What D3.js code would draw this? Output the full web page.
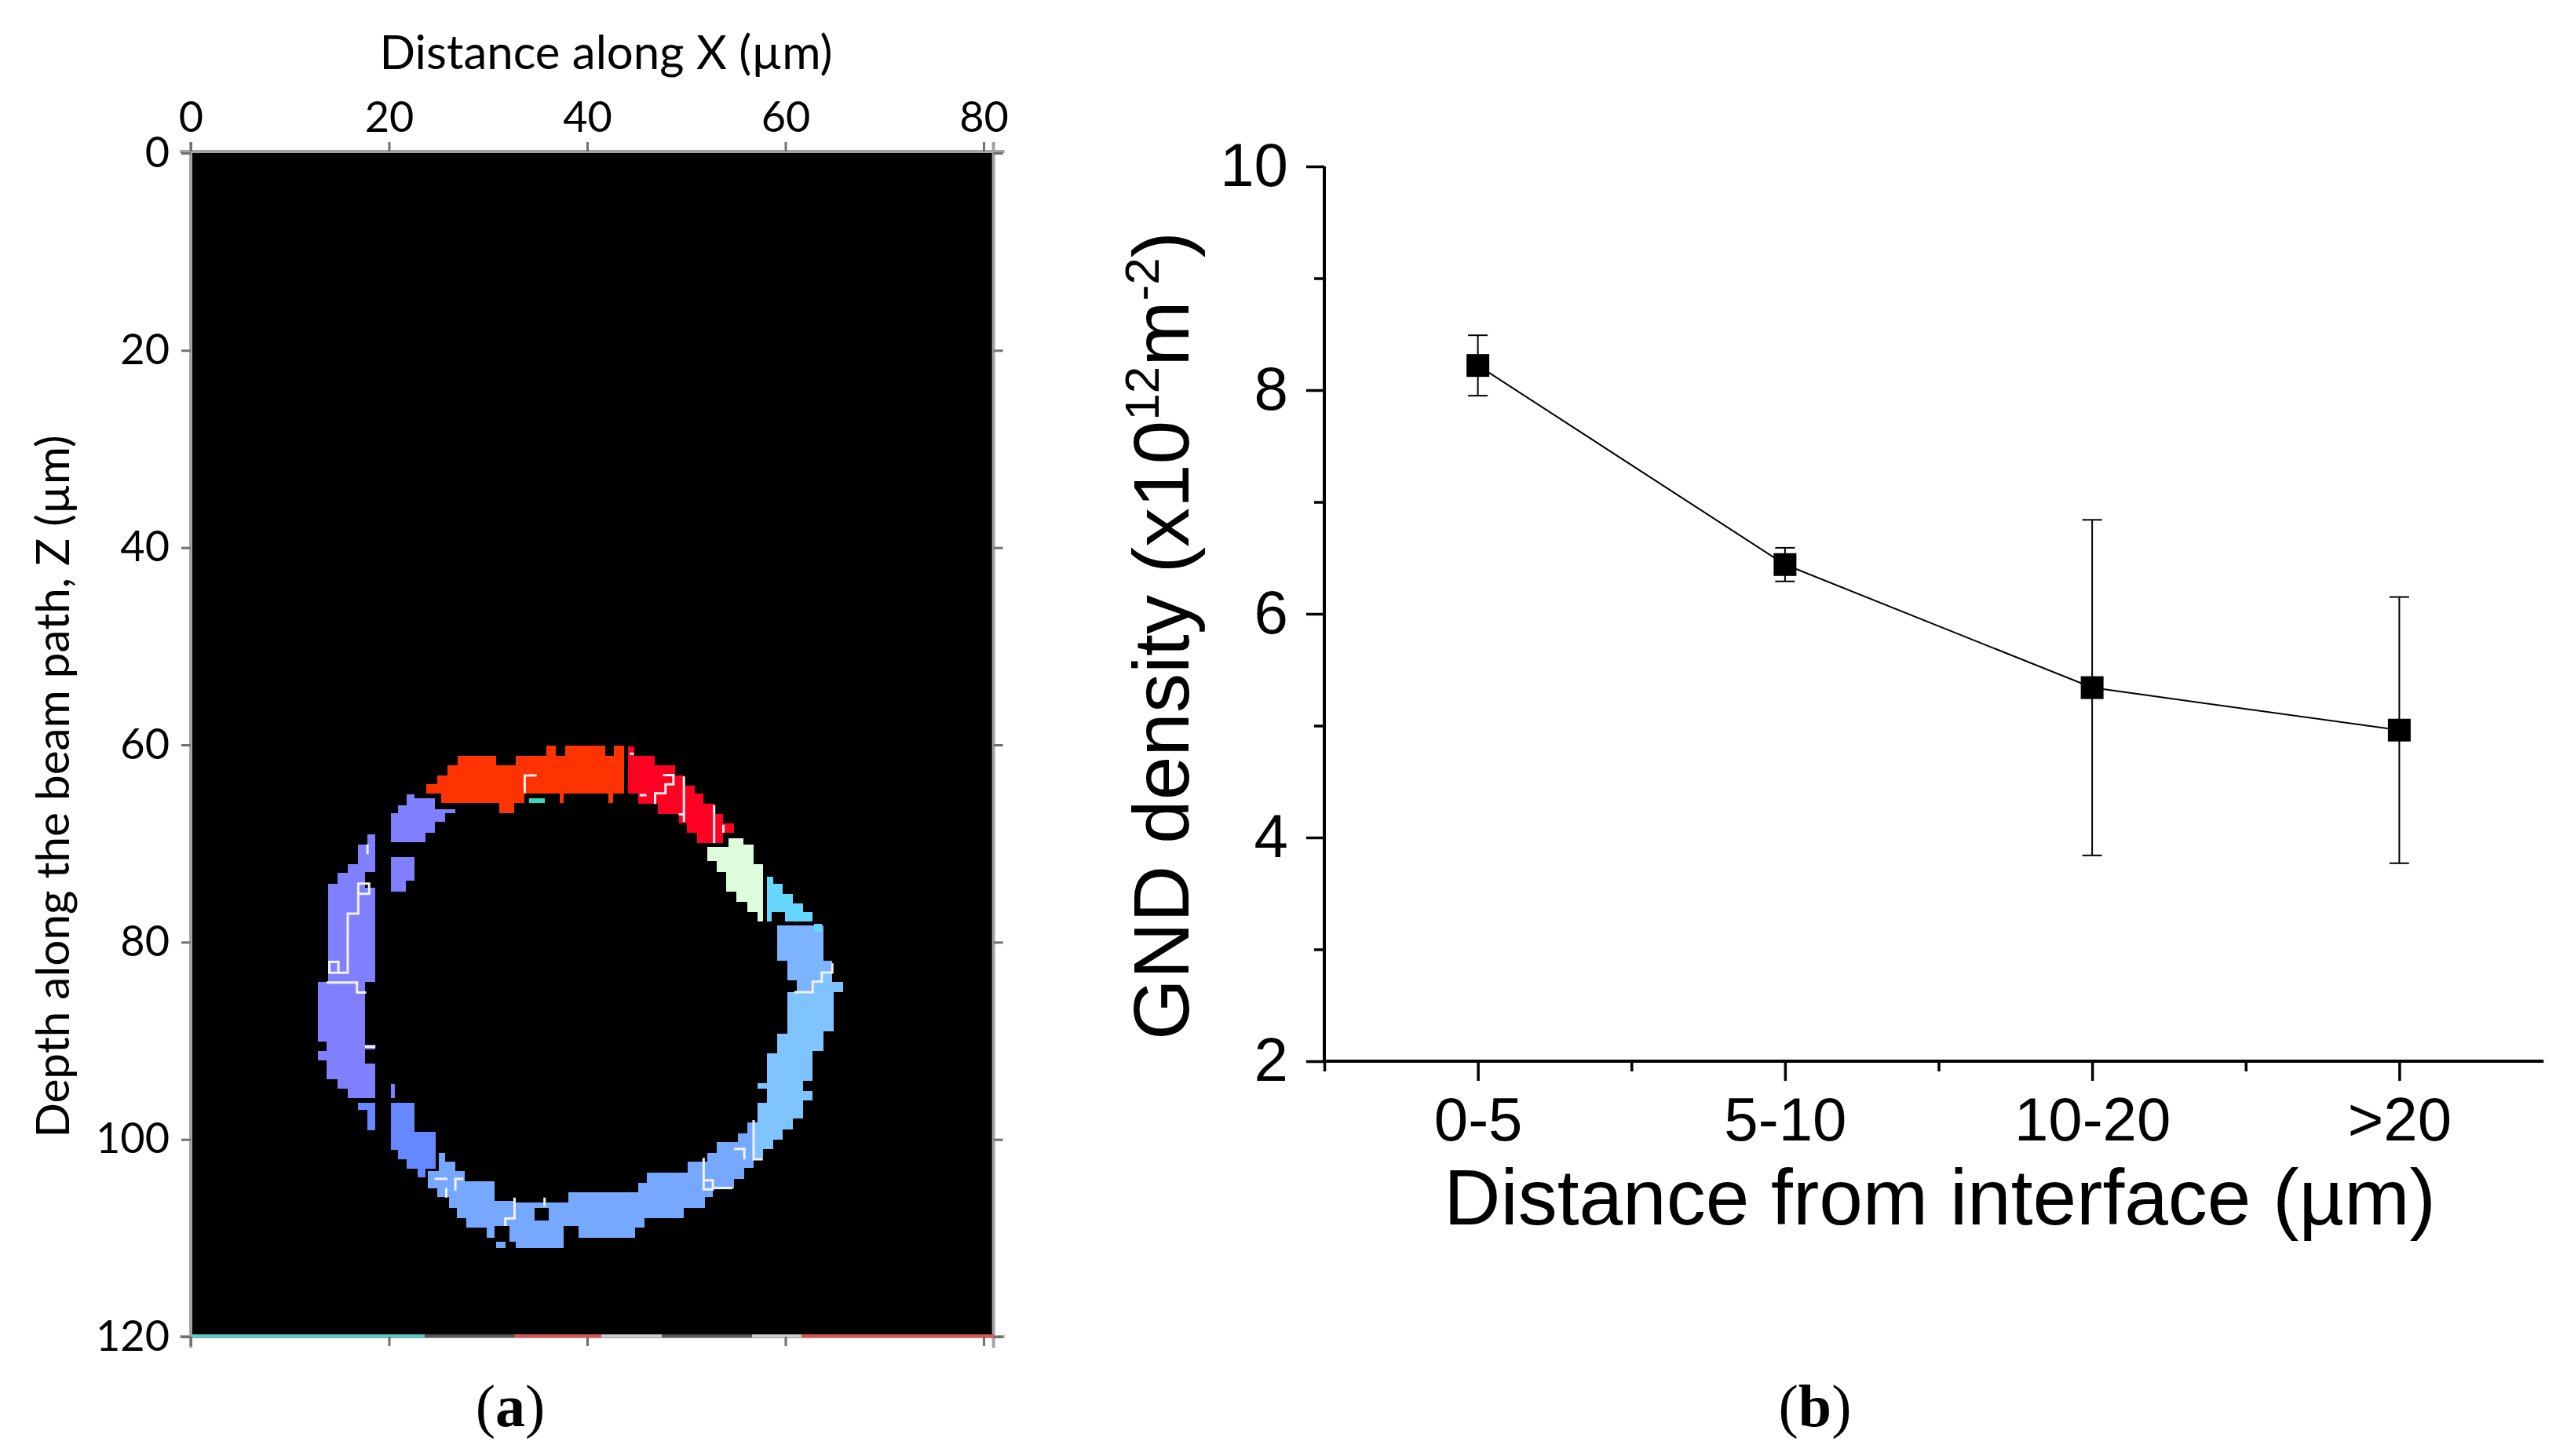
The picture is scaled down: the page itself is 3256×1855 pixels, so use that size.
<!DOCTYPE html>
<html>
<head>
<meta charset="utf-8">
<script src="https://cdn.jsdelivr.net/npm/d3@7"></script>
<style>
  body { margin: 0; background: #fff; }
</style>
</head>
<body>
<script>
// ---------- data : panel (a) map, cells as [z0, z1, x0, x1] in µm ----------
var orangeGrain = [
  [60.07,61.08,35.85,36.8],[60.07,61.08,37.8,41.8],[60.07,61.08,42.7,43.7],
  [61.08,62.1,26.9,30.8],[61.08,62.1,32.8,43.7],
  [62.1,63.1,25.9,43.7],
  [63.1,64.0,24.85,43.7],
  [64.0,64.9,23.8,43.7],
  [64.9,65.9,25.25,33.7],[64.9,65.9,37.2,37.6],[64.9,65.9,42.1,42.6],
  [65.9,66.9,31.1,32.6]
];
var tealGrain = [[65.4,65.9,34.1,35.7]];
var redGrain = [
  [60.15,61.08,44.15,44.73],
  [61.08,62.09,44.15,46.85],
  [62.09,63.07,44.15,48.84],
  [63.07,64.13,44.15,49.76],
  [64.13,64.92,44.15,50.82],
  [64.92,65.98,45.13,51.75],
  [65.98,67.04,47.11,52.81],
  [67.04,67.97,49.23,53.74],
  [67.97,68.9,50.03,54.8],
  [68.9,69.96,51.09,53.74]
];
var greenGrain = [
  [69.43,70.09,54.27,55.73],
  [70.09,70.35,54.27,56.79],
  [70.35,71.81,52.15,56.79],
  [71.81,72.08,53.08,56.79],
  [72.08,72.87,53.08,57.71],
  [72.87,74.86,54.0,57.71],
  [74.86,75.92,55.06,57.71],
  [75.92,76.98,56.12,57.71],
  [76.98,77.9,57.18,57.71]
];
var cyanGrain = [
  [73.4,74.06,58.11,58.77],
  [74.06,75.12,58.11,59.7],
  [75.12,76.05,58.11,60.76],
  [76.05,76.98,58.11,61.82],
  [76.98,77.9,58.11,58.64],[76.98,77.9,59.96,62.75],
  [78.17,78.97,62.88,63.67]
];
var skyGrain = [
  [78.3,81.88,59.17,63.81],
  [81.88,83.07,60.23,64.73],
  [83.07,83.87,60.23,63.67],
  [83.87,85.06,61.16,62.75]
];
var lightBlueGrain = [
  [83.07,84.0,63.67,64.73],
  [84.0,85.06,62.75,65.79],
  [85.06,89.03,60.23,64.87],
  [89.03,89.3,60.23,63.81],
  [89.3,91.02,59.17,63.81],
  [91.02,91.28,59.17,62.75],
  [91.28,94.07,58.11,62.75],
  [94.07,94.33,58.11,61.82],
  [94.33,94.86,57.18,61.82],
  [94.86,95.13,58.11,61.82],
  [95.13,96.05,58.11,62.75],
  [96.05,96.32,58.11,61.82],
  [96.32,97.91,57.18,61.82],
  [97.91,98.31,57.18,60.76],
  [98.31,98.97,56.8,60.76],
  [98.97,100.03,56.8,59.7],
  [100.03,100.96,56.8,58.77],
  [100.96,101.9,56.8,57.71]
];
var bottomGrain = [
  [98.31,99.36,56.12,56.8],
  [99.36,100.29,55.2,56.8],
  [100.29,101.35,53.08,56.8],
  [101.35,102.28,52.15,56.8],
  [102.28,102.9,50.16,56.79],
  [102.9,103.34,50.16,55.86],
  [103.34,104.0,46.05,55.86],
  [104.0,104.4,46.05,54.8],
  [104.4,104.93,45.13,54.8],
  [104.93,105.33,45.13,52.68],
  [105.33,105.86,38.1,52.68],
  [105.86,106.39,38.1,51.88],
  [106.39,106.92,32.8,51.88],
  [106.92,107.98,36.11,49.76],[106.92,108.24,32.8,34.66],
  [107.98,108.24,36.11,45.79],
  [108.24,108.8,32.8,45.79],
  [108.8,108.9,32.8,37.6],[108.8,108.9,39.16,45.79],
  [108.9,109.96,32.8,37.6],[108.9,109.96,39.16,44.86],
  [109.96,111.02,32.8,37.6],
  [101.35,102.28,25.0,25.65],
  [102.28,103.2,25.0,26.7],
  [103.2,104.27,23.93,27.63],
  [104.27,104.93,23.93,30.68],
  [104.93,105.86,24.85,30.68],
  [105.86,106.26,26.05,30.68],
  [106.26,106.92,26.05,32.8],
  [106.92,107.98,26.84,32.8],
  [107.98,108.77,27.77,32.8],
  [108.77,108.9,27.77,30.68],[108.77,110.36,32.14,32.8],
  [108.9,109.96,29.89,30.68],
  [110.36,111.02,30.8,31.74]
];
var blobGrain = [
  [96.32,99.23,20.22,22.6],
  [99.23,101.09,20.22,24.72],
  [101.09,102.02,20.88,24.72],
  [102.02,102.94,21.81,24.72],
  [102.94,103.87,22.87,23.66],
  [96.32,96.98,16.9,18.63],
  [96.98,99.1,17.83,18.63]
];
var violetGrain = [
  [65.05,65.45,21.8,22.6],
  [65.45,66.1,21.8,24.6],
  [66.1,66.5,20.9,24.6],
  [66.5,66.9,20.9,26.7],
  [66.9,67.8,20.2,25.65],
  [67.8,68.9,20.2,24.6],
  [68.9,69.9,20.2,23.7],
  [71.4,73.8,20.2,22.6],
  [73.8,74.9,20.2,21.7],
  [69.08,70.09,17.83,18.63],
  [70.09,72.08,16.9,18.63],
  [72.08,72.87,15.84,18.63],
  [72.87,73.0,15.84,17.57],
  [73.0,74.06,14.78,17.57],
  [74.06,74.46,13.86,17.57],
  [74.46,84.0,13.86,18.63],
  [84.0,90.09,12.8,17.57],
  [90.09,91.02,13.72,17.57],
  [90.36,90.89,17.57,18.63],
  [91.02,91.95,12.8,17.57],
  [91.95,92.34,13.72,17.57],
  [92.34,93.93,13.72,18.63],
  [93.93,94.86,14.78,18.63],
  [94.86,95.79,15.84,18.63],
  [94.4,95.79,20.22,20.6]
];
// grain boundaries, polylines of [x, z]
var boundaries = [
  [[33.7,64.9],[33.7,63.1],[34.9,63.1]],
  [[47.64,63.07],[48.7,63.07],[48.7,64.0],[47.9,64.0],[47.9,64.92],[46.85,64.92],[46.85,65.98]],
  [[45.3,65.1],[46.0,65.1]],
  [[49.76,63.2],[49.76,67.8]],
  [[49.23,67.04],[49.76,67.04]],
  [[52.81,66.1],[52.81,69.96]],
  [[53.74,68.1],[53.74,68.9]],
  [[44.3,60.9],[44.7,60.9]],
  [[17.83,70.1],[17.83,71.1]],
  [[16.9,75.1],[18.0,75.1],[18.0,74.06],[16.9,74.06],[16.9,77.1],[15.84,77.1],[15.84,83.1],[13.98,83.1],[13.98,82.0],[14.9,82.0],[14.9,83.1]],
  [[13.7,84.1],[16.77,84.1],[16.77,85.1],[17.7,85.1]],
  [[17.57,90.6],[18.63,90.6]],
  [[24.6,104.0],[25.9,104.0]],
  [[25.78,104.9],[25.78,105.9]],
  [[27.5,104.0],[26.7,104.0],[26.7,105.2]],
  [[32.67,105.9],[32.67,108.0],[31.74,108.0],[31.74,108.77]],
  [[35.7,105.9],[35.7,106.8]],
  [[56.79,98.04],[56.79,102.02],[57.71,102.02]],
  [[54.8,100.96],[55.86,100.96],[55.86,102.02]],
  [[51.75,101.88],[51.75,105.06],[52.68,105.06],[52.68,104.14],[51.75,104.14]],
  [[52.68,104.93],[54.67,104.93]],
  [[60.89,85.06],[62.75,85.06],[62.75,84.0],[63.67,84.0],[63.67,83.07],[64.73,83.07],[64.73,82.15]]
];
// last row of the map : [x0, x1, phase]
var lastRow = [
  [0.16,23.6,"c"],[23.6,32.6,"d"],[32.6,41.4,"r"],[41.4,47.5,"l"],
  [47.5,56.6,"d"],[56.6,61.6,"l"],[61.6,81,"r"]
];
var mapExtentX = [0, 81];
var mapExtentZ = [0, 120];
var xTicksA = [0, 20, 40, 60, 80];
var zTicksA = [0, 20, 40, 60, 80, 100, 120];

// ---------- data : panel (b) ----------
var categories = ["0-5", "5-10", "10-20", ">20"];
var gnd = [8.22, 6.44, 5.34, 4.96];
var gndErr = [0.27, 0.15, 1.5, 1.19];
var yTicksB = [2, 4, 6, 8, 10];
var yMinorB = [3, 5, 7, 9];

var grainColor = {
  orange: "#ff3300", teal: "#33d9bb", red: "#ff0022", green: "#dcfcdc",
  cyan: "#66d8ff", sky: "#7cb4ff", light: "#80c4ff", bottom: "#76a8ff",
  blob: "#6688ff", violet: "#8080ff"
};
var rowColor = { c: "#55cccc", d: "#555555", r: "#dd5555", l: "#cccccc" };

var grains = [
  ["violet", violetGrain], ["blob", blobGrain], ["bottom", bottomGrain],
  ["light", lightBlueGrain], ["sky", skyGrain], ["cyan", cyanGrain],
  ["green", greenGrain], ["red", redGrain], ["orange", orangeGrain], ["teal", tealGrain]
];

var W = 3256, H = 1855;
var svg = d3.select("body").append("svg")
  .attr("width", W).attr("height", H)
  .style("background-color", "#ffffff");

// ================= panel (a) =================
var mapX = d3.scaleLinear().domain([0, 80]).range([243, 1253]);
var mapZ = d3.scaleLinear().domain([0, 120]).range([195, 1703]);
var fontA = "Lato, 'Open Sans', sans-serif";

svg.append("rect")
  .attr("x", mapX(mapExtentX[0])).attr("y", mapZ(mapExtentZ[0]))
  .attr("width", mapX(mapExtentX[1]) - mapX(mapExtentX[0]))
  .attr("height", mapZ(mapExtentZ[1]) - mapZ(mapExtentZ[0]))
  .attr("fill", "#000");

grains.forEach(function (g) {
  svg.append("g").attr("shape-rendering", "crispEdges")
    .selectAll("rect").data(g[1]).enter().append("rect")
    .attr("x", d => mapX(d[2]))
    .attr("y", d => mapZ(d[0]))
    .attr("width", d => mapX(d[3]) - mapX(d[2]))
    .attr("height", d => mapZ(d[1]) - mapZ(d[0]))
    .attr("fill", grainColor[g[0]]);
});

var bLine = d3.line().x(d => mapX(d[0])).y(d => mapZ(d[1]));
svg.append("g").selectAll("path").data(boundaries).enter().append("path")
  .attr("d", bLine)
  .attr("fill", "none").attr("stroke", "#f2f2f2").attr("stroke-width", 3);

// frame
var fx0 = mapX(mapExtentX[0]), fx1 = mapX(mapExtentX[1]);
var fz0 = mapZ(mapExtentZ[0]), fz1 = mapZ(mapExtentZ[1]);
var frame = svg.append("g").attr("stroke", "#a3a3a3").attr("stroke-width", 4);
frame.append("line").attr("x1", fx0 - 14).attr("x2", fx1 + 14).attr("y1", fz0 - 2).attr("y2", fz0 - 2);
frame.append("line").attr("x1", fx0 - 14).attr("x2", fx1 + 14).attr("y1", fz1).attr("y2", fz1);
frame.append("line").attr("x1", fx0).attr("x2", fx0).attr("y1", fz0 - 14).attr("y2", fz1 + 14);
frame.append("line").attr("x1", fx1).attr("x2", fx1).attr("y1", fz0 - 14).attr("y2", fz1 + 14);

svg.append("g").attr("shape-rendering", "crispEdges")
  .selectAll("rect").data(lastRow).enter().append("rect")
  .attr("x", d => mapX(d[0]))
  .attr("y", mapZ(119.8))
  .attr("width", d => mapX(d[1]) - mapX(d[0]))
  .attr("height", mapZ(120) - mapZ(119.8) + 1)
  .attr("fill", d => rowColor[d[2]]);

function styleA(g) {
  g.select(".domain").remove();
  g.selectAll(".tick line").attr("stroke", "#707070").attr("stroke-width", 3);
  g.selectAll(".tick text").attr("fill", "#000");
  g.attr("font-family", fontA).attr("font-size", 54);
}
svg.append("g").attr("transform", `translate(0,${fz0 - 2})`)
  .call(d3.axisTop(mapX).tickValues(xTicksA).tickSize(12).tickPadding(13))
  .call(styleA);
svg.append("g").attr("transform", `translate(0,${fz1})`)
  .call(d3.axisBottom(mapX).tickValues(xTicksA).tickSize(12).tickFormat(""))
  .call(styleA);
svg.append("g").attr("transform", `translate(${fx0},0)`)
  .call(d3.axisLeft(mapZ).tickValues(zTicksA).tickSize(12).tickPadding(15))
  .call(styleA);
svg.append("g").attr("transform", `translate(${fx1},0)`)
  .call(d3.axisRight(mapZ).tickValues(zTicksA).tickSize(12).tickFormat(""))
  .call(styleA);

svg.append("text")
  .attr("x", 772).attr("y", 88)
  .attr("text-anchor", "middle")
  .attr("font-family", fontA).attr("font-size", 60)
  .text("Distance along X (µm)");
svg.append("text")
  .attr("transform", "translate(88,1002) rotate(-90)")
  .attr("text-anchor", "middle")
  .attr("font-family", fontA).attr("font-size", 58.5)
  .text("Depth along the beam path, Z (µm)");

// ================= panel (b) =================
var catX = d3.scaleLinear().domain([-0.5, 3.5]).range([1687, 3252]);
var gndY = d3.scaleLinear().domain([2, 10]).range([1352, 212]);
var fontB = "'Liberation Sans', Arial, sans-serif";

function styleB(g) {
  g.select(".domain").remove();
  g.selectAll(".tick line").attr("stroke", "#000").attr("stroke-width", 3.5);
  g.selectAll(".tick text").attr("fill", "#000");
  g.attr("font-family", fontB).attr("font-size", 78);
}
svg.append("g").attr("transform", `translate(0,${gndY(2)})`)
  .call(d3.axisBottom(catX).tickValues([0, 1, 2, 3]).tickSize(25).tickPadding(21)
    .tickFormat(i => categories[i]))
  .call(styleB);
svg.append("g").attr("transform", `translate(0,${gndY(2)})`)
  .call(d3.axisBottom(catX).tickValues([-0.5, 0.5, 1.5, 2.5]).tickSize(13).tickFormat(""))
  .call(styleB);
svg.append("g").attr("transform", `translate(${catX(-0.5)},0)`)
  .call(d3.axisLeft(gndY).tickValues(yTicksB).tickSize(23).tickPadding(23))
  .call(styleB);
svg.append("g").attr("transform", `translate(${catX(-0.5)},0)`)
  .call(d3.axisLeft(gndY).tickValues(yMinorB).tickSize(13).tickFormat(""))
  .call(styleB);

svg.append("line")
  .attr("x1", catX(-0.5)).attr("x2", catX(-0.5))
  .attr("y1", gndY(10)).attr("y2", gndY(2))
  .attr("stroke", "#000").attr("stroke-width", 4);
svg.append("line")
  .attr("x1", catX(-0.5)).attr("x2", catX(3.47))
  .attr("y1", gndY(2)).attr("y2", gndY(2))
  .attr("stroke", "#000").attr("stroke-width", 4);

var pts = gnd.map((v, i) => ({ i: i, v: v, e: gndErr[i] }));

svg.append("path")
  .datum(pts)
  .attr("d", d3.line().x(d => catX(d.i)).y(d => gndY(d.v)))
  .attr("fill", "none").attr("stroke", "#000").attr("stroke-width", 2);

var eb = svg.append("g").attr("stroke", "#000").attr("stroke-width", 2);
eb.selectAll(".bar").data(pts).enter().append("line")
  .attr("x1", d => catX(d.i)).attr("x2", d => catX(d.i))
  .attr("y1", d => gndY(d.v + d.e)).attr("y2", d => gndY(d.v - d.e));
eb.selectAll(".capT").data(pts).enter().append("line")
  .attr("x1", d => catX(d.i) - 12.5).attr("x2", d => catX(d.i) + 12.5)
  .attr("y1", d => gndY(d.v + d.e)).attr("y2", d => gndY(d.v + d.e));
eb.selectAll(".capB").data(pts).enter().append("line")
  .attr("x1", d => catX(d.i) - 12.5).attr("x2", d => catX(d.i) + 12.5)
  .attr("y1", d => gndY(d.v - d.e)).attr("y2", d => gndY(d.v - d.e));

svg.append("g").selectAll("path").data(pts).enter().append("path")
  .attr("transform", d => `translate(${catX(d.i)},${gndY(d.v)})`)
  .attr("d", d3.symbol(d3.symbolSquare, 29 * 29))
  .attr("fill", "#000");

svg.append("text")
  .attr("x", 2471).attr("y", 1560)
  .attr("text-anchor", "middle")
  .attr("font-family", fontB).attr("font-size", 100)
  .text("Distance from interface (µm)");

var yt = svg.append("text")
  .attr("transform", "translate(1514,810) rotate(-90)")
  .attr("text-anchor", "middle")
  .attr("font-family", fontB).attr("font-size", 100);
yt.append("tspan").text("GND density (x10");
yt.append("tspan").attr("font-size", 62).attr("dy", -38).text("12");
yt.append("tspan").attr("dy", 38).text("m");
yt.append("tspan").attr("font-size", 62).attr("dy", -38).text("-2");
yt.append("tspan").attr("dy", 38).text(")");

// ================= panel labels =================
[["a", 650], ["b", 2312]].forEach(function (p) {
  var t = svg.append("text")
    .attr("x", p[1]).attr("y", 1817)
    .attr("text-anchor", "middle")
    .attr("font-family", "'Liberation Serif', 'Times New Roman', serif")
    .attr("font-size", 76);
  t.append("tspan").text("(");
  t.append("tspan").attr("font-weight", "bold").text(p[0]);
  t.append("tspan").text(")");
});
</script>
</body>
</html>
